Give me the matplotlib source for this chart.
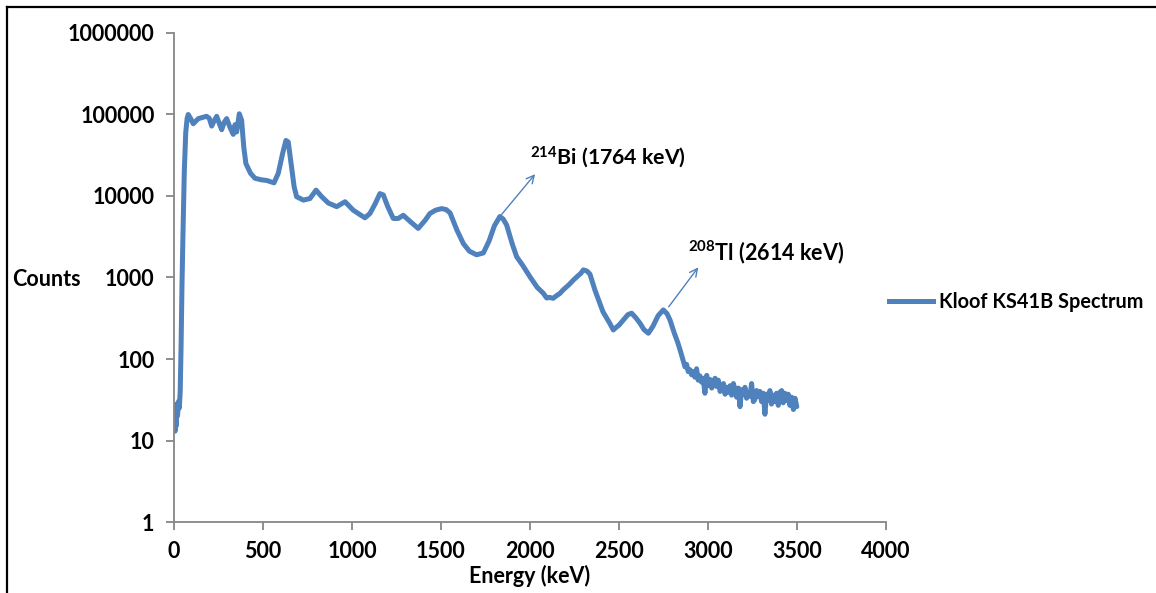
import matplotlib
matplotlib.use("Agg")
import matplotlib.pyplot as plt
from matplotlib.lines import Line2D

plt.rcParams["font.family"] = ["Lato", "DejaVu Sans"]
plt.rcParams["font.weight"] = "bold"
plt.rcParams["mathtext.fontset"] = "custom"
plt.rcParams["mathtext.rm"] = "Lato:bold"
plt.rcParams["mathtext.it"] = "Lato:bold"
plt.rcParams["mathtext.bf"] = "Lato:bold"

# Gamma-ray spectrum of sample Kloof KS41B (energy in keV, counts per channel)
energy_kev = [
    0, 3, 6, 9, 12, 15, 20, 25, 30, 35, 40, 45, 50, 58, 66, 74, 80,
    94, 108, 137, 160, 183, 198, 212, 226, 240, 254, 268, 282, 296, 314, 333,
    343, 352, 367, 380, 392, 404, 430, 455, 490, 521, 562, 586, 610, 629, 642,
    661, 675, 689, 727, 764, 798, 830, 867, 914, 961, 1007, 1040, 1073, 1101,
    1130, 1157, 1176, 1200, 1232, 1260, 1288, 1330, 1372, 1410, 1438, 1470,
    1504, 1530, 1551, 1590, 1626, 1660, 1700, 1738, 1770, 1800, 1831, 1850,
    1869, 1900, 1925, 1960, 2000, 2040, 2075, 2094, 2110, 2130, 2150, 2169,
    2185, 2200, 2220, 2244, 2270, 2285, 2300, 2320, 2337, 2365, 2393, 2410,
    2430, 2450, 2468, 2485, 2500, 2524, 2550, 2571, 2595, 2618, 2640, 2665,
    2690, 2720, 2749, 2770, 2787, 2810, 2830, 2843, 2855, 2863, 2871, 2880,
    2889, 2899, 2908, 2917, 2926, 2936, 2945, 2955, 2964, 2973, 2983, 2993,
    3002, 3012, 3021, 3030, 3040, 3049, 3058, 3068, 3077, 3087, 3096, 3105,
    3115, 3124, 3133, 3143, 3152, 3161, 3171, 3180, 3189, 3199, 3208, 3217,
    3227, 3236, 3245, 3255, 3264, 3273, 3283, 3292, 3301, 3311, 3320, 3329,
    3339, 3348, 3357, 3367, 3376, 3385, 3395, 3404, 3414, 3423, 3432, 3442,
    3451, 3460, 3470, 3480, 3489, 3499,
]
counts = [
    16, 26, 13, 24, 15, 28, 20, 30, 25, 40, 150, 800, 3000, 20000, 60000, 90000, 100000,
    89000, 77000, 89000, 92000, 95000, 90000, 72000, 84000, 95000, 78000, 65000, 80000, 89000, 70000, 57000,
    75000, 61000, 102000, 85000, 40000, 25000, 19000, 16500, 15800, 15500, 14500, 19000, 33000, 48000, 46000,
    22500, 13000, 9800, 8900, 9300, 11800, 9800, 8200, 7400, 8500, 6700, 6000, 5400, 6100,
    8000, 10700, 10300, 7500, 5300, 5300, 5800, 4800, 4000, 5000, 6100, 6700,
    7000, 6800, 6200, 3800, 2600, 2100, 1900, 2000, 2800, 4300, 5600, 5200,
    4400, 2600, 1800, 1400, 1020, 760, 640, 560, 570, 555, 600, 640,
    700, 750, 820, 930, 1050, 1120, 1240, 1200, 1100, 700, 480, 380,
    320, 270, 227, 245, 260, 300, 350, 365, 320, 275, 230, 207,
    250, 340, 400, 360, 300, 210, 160, 130, 105, 92, 80, 86,
    70, 74, 64, 70, 60, 76, 55, 62, 52, 58, 38, 63,
    47, 56, 44, 50, 58, 46, 55, 40, 43, 50, 37, 45,
    39, 47, 36, 50, 41, 34, 44, 26, 42, 37, 45, 33,
    39, 35, 50, 30, 32, 41, 35, 40, 30, 38, 21, 37,
    31, 41, 28, 36, 30, 38, 27, 39, 41, 29, 38, 31,
    37, 27, 34, 24, 33, 26,
]

BLUE = "#4F81BD"
AXIS_GREY = "#868686"

fig = plt.figure(figsize=(11.56, 5.93), dpi=100)
fig.patch.set_facecolor("white")
ax = fig.add_axes([0.1505, 0.1197, 0.6159, 0.8247])

line, = ax.plot(energy_kev, counts, color=BLUE, lw=3.6, solid_joinstyle="round",
                solid_capstyle="round", label="Kloof KS41B Spectrum")

ax.set_yscale("log")
ax.set_xlim(0, 4000)
ax.set_ylim(1, 1e6)
ax.set_xticks(range(0, 4001, 500))
ax.set_yticks([1, 10, 100, 1000, 10000, 100000, 1000000])
ax.set_yticklabels(["1", "10", "100", "1000", "10000", "100000", "1000000"])
ax.minorticks_off()

for side in ("top", "right"):
    ax.spines[side].set_visible(False)
for side in ("left", "bottom"):
    ax.spines[side].set_color(AXIS_GREY)
    ax.spines[side].set_linewidth(1.3)
ax.tick_params(axis="both", direction="out", length=6, width=1.3, color=AXIS_GREY,
               labelsize=15.5, pad=8)
for lab in ax.get_xticklabels() + ax.get_yticklabels():
    lab.set_fontweight("bold")

ax.set_xlabel("Energy (keV)", fontsize=15.5, fontweight="bold", labelpad=2)
fig.text(12 / 1156, 1 - 279 / 593, "Counts", fontsize=15.5, fontweight="bold",
         ha="left", va="center")

# Peak annotations
arrow_style = dict(arrowstyle="->", color=BLUE, lw=1.0, mutation_scale=14)
ax.annotate("", xy=(2039, 19700), xytext=(1831, 5600), arrowprops=arrow_style)
ax.annotate("", xy=(2955, 1420), xytext=(2770, 410), arrowprops=arrow_style)
ax.text(2000, 30000, r"$^{214}$Bi (1764 keV)", fontsize=15.3, fontweight="bold",
        ha="left", va="center")
ax.text(2888, 2050, r"$^{208}$Tl (2614 keV)", fontsize=15.5, fontweight="bold",
        ha="left", va="center")

# Legend entry drawn to the right of the plot
fig.legend(handles=[Line2D([0], [0], color=BLUE, lw=3.6)],
           labels=["Kloof KS41B Spectrum"], loc="center left",
           bbox_to_anchor=(889 / 1156, 1 - 302 / 593), frameon=False,
           borderpad=0, borderaxespad=0,
           handlelength=2.2, handletextpad=0.3,
           prop=dict(family=["Lato", "DejaVu Sans"], weight="bold", size=14.3))

# Figure frame along top and left edges
fig.add_artist(Line2D([7 / 1156, 1], [1 - 7 / 593, 1 - 7 / 593],
                      transform=fig.transFigure, color="black", lw=1.6))
fig.add_artist(Line2D([7 / 1156, 7 / 1156], [0, 1 - 7 / 593],
                      transform=fig.transFigure, color="black", lw=1.6))

fig.savefig("out.png", dpi=100, facecolor="white")
